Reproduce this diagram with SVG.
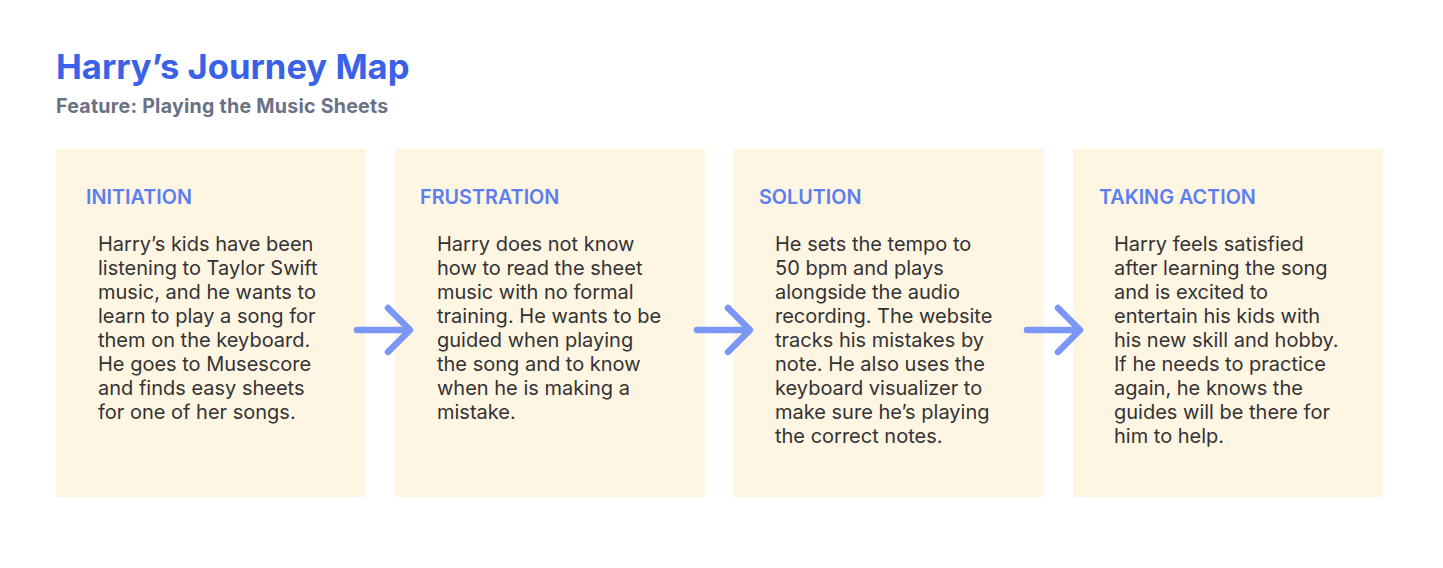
<svg xmlns="http://www.w3.org/2000/svg" width="1443" height="568" viewBox="0 0 1443 568">
<style>
.card{fill:#FEF5E3}
.head{font-family:Inter,"Liberation Sans",sans-serif;font-size:19.8px;font-weight:600;fill:#5B7FEE}
.body{font-family:Inter,"Liberation Sans",sans-serif;font-size:20px;fill:#333333}
.arrow{fill:none;stroke:#7B97F6;stroke-width:6.5;stroke-linecap:round;stroke-linejoin:round}
</style>
<rect width="1443" height="568" fill="#FFFFFF"/>
<text x="56" y="79" font-family="Inter,'Liberation Sans',sans-serif" font-size="34.6" font-weight="700" fill="#3A62E8">Harry’s Journey Map</text>
<text x="56" y="113" font-family="Inter,'Liberation Sans',sans-serif" font-size="19.6" font-weight="700" letter-spacing="0.25" fill="#6B7185">Feature: Playing the Music Sheets</text>
<g id="initiation">
<rect class="card" x="56" y="149" width="310" height="348"/>
<text class="head" x="86" y="204">INITIATION</text>
<text class="body" x="98" y="251"><tspan x="98" dy="0">Harry’s kids have been</tspan><tspan x="98" dy="24">listening to Taylor Swift</tspan><tspan x="98" dy="24">music, and he wants to</tspan><tspan x="98" dy="24">learn to play a song for</tspan><tspan x="98" dy="24">them on the keyboard.</tspan><tspan x="98" dy="24">He goes to Musescore</tspan><tspan x="98" dy="24">and finds easy sheets</tspan><tspan x="98" dy="24">for one of her songs.</tspan></text>
</g>
<g id="frustration">
<rect class="card" x="395" y="149" width="310" height="348"/>
<text class="head" x="420" y="204">FRUSTRATION</text>
<text class="body" x="437" y="251"><tspan x="437" dy="0">Harry does not know</tspan><tspan x="437" dy="24">how to read the sheet</tspan><tspan x="437" dy="24">music with no formal</tspan><tspan x="437" dy="24">training. He wants to be</tspan><tspan x="437" dy="24">guided when playing</tspan><tspan x="437" dy="24">the song and to know</tspan><tspan x="437" dy="24">when he is making a</tspan><tspan x="437" dy="24">mistake.</tspan></text>
</g>
<g id="solution">
<rect class="card" x="734" y="149" width="310" height="348"/>
<text class="head" x="759" y="204">SOLUTION</text>
<text class="body" x="775" y="251"><tspan x="775" dy="0">He sets the tempo to</tspan><tspan x="775" dy="24">50 bpm and plays</tspan><tspan x="775" dy="24">alongside the audio</tspan><tspan x="775" dy="24">recording. The website</tspan><tspan x="775" dy="24">tracks his mistakes by</tspan><tspan x="775" dy="24">note. He also uses the</tspan><tspan x="775" dy="24">keyboard visualizer to</tspan><tspan x="775" dy="24">make sure he’s playing</tspan><tspan x="775" dy="24">the correct notes.</tspan></text>
</g>
<g id="taking-action">
<rect class="card" x="1073" y="149" width="310" height="348"/>
<text class="head" x="1099" y="204">TAKING ACTION</text>
<text class="body" x="1114" y="251"><tspan x="1114" dy="0">Harry feels satisfied</tspan><tspan x="1114" dy="24">after learning the song</tspan><tspan x="1114" dy="24">and is excited to</tspan><tspan x="1114" dy="24">entertain his kids with</tspan><tspan x="1114" dy="24">his new skill and hobby.</tspan><tspan x="1114" dy="24">If he needs to practice</tspan><tspan x="1114" dy="24">again, he knows the</tspan><tspan x="1114" dy="24">guides will be there for</tspan><tspan x="1114" dy="24">him to help.</tspan></text>
</g>
<g id="connectors">
<path class="arrow" d="M357 330 H409 M388 308 L410 330 L388 352"/>
<path class="arrow" d="M697 330 H749 M728 308 L750 330 L728 352"/>
<path class="arrow" d="M1027 330 H1079 M1058 308 L1080 330 L1058 352"/>
</g>
</svg>
